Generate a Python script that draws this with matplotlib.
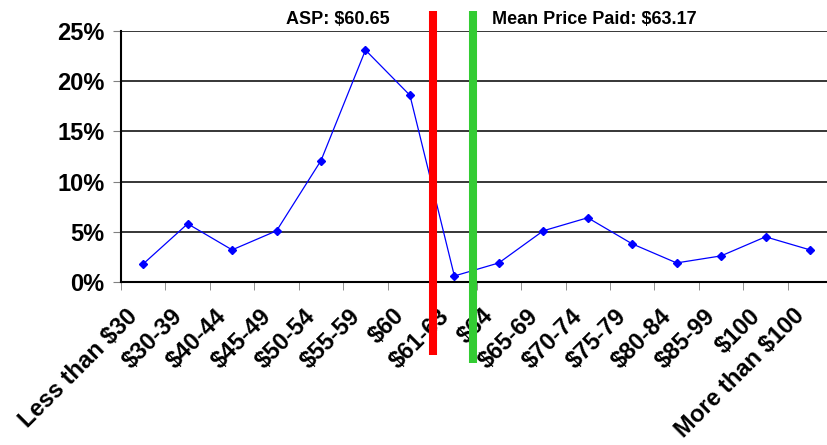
import matplotlib
matplotlib.use("Agg")
import matplotlib.pyplot as plt
import matplotlib.transforms as mtransforms
import numpy as np

categories = ["Less than $30", "$30-39", "$40-44", "$45-49", "$50-54", "$55-59",
              "$60", "$61-63", "$64", "$65-69", "$70-74", "$75-79", "$80-84",
              "$85-99", "$100", "More than $100"]
share = [1.8, 5.8, 3.2, 5.1, 12.1, 23.1, 18.6, 0.6, 1.9, 5.1, 6.4, 3.8, 1.9,
         2.6, 4.5, 3.2]
y_ticks = [0, 5, 10, 15, 20, 25]
asp_pos = 6.52      # position of ASP $60.65 on the category axis
mean_pos = 7.42     # position of mean price paid $63.17

plt.rcParams["font.family"] = ["Liberation Sans", "DejaVu Sans"]
plt.rcParams["font.weight"] = "bold"

fig = plt.figure(figsize=(8.27, 4.45), dpi=100)
ax = fig.add_axes([0.1463, 0.3663, 0.86, 0.564])

x = np.arange(len(categories))
ax.set_xlim(-0.5, len(categories) - 0.5)
ax.set_ylim(0, 25)

for v in y_ticks[1:]:
    ax.axhline(v, color="black", lw=1.1, zorder=1)

ax.plot(x, share, color="#0000FF", lw=0.9, marker="D", ms=4.2, zorder=3)

for s in ["top", "right"]:
    ax.spines[s].set_visible(False)
ax.spines["left"].set_linewidth(1.5)
ax.spines["bottom"].set_linewidth(1.5)

ax.set_yticks(y_ticks)
ax.set_yticklabels([f"{v}%" for v in y_ticks], fontsize=17, fontweight="bold")
ax.tick_params(axis="y", length=6, color="#808080", pad=6)

ax.set_xticks(x)
ax.set_xticklabels(categories, fontsize=17, fontweight="bold", rotation=45,
                   ha="right", va="center", rotation_mode="anchor")
ax.tick_params(axis="x", which="major", length=0, pad=22)
shift = mtransforms.ScaledTranslation(-9 / 100, 0, fig.dpi_scale_trans)
for lab in ax.get_xticklabels():
    lab.set_transform(lab.get_transform() + shift)
ax.set_xticks(np.arange(-0.5, len(categories) + 0.5), minor=True)
ax.tick_params(axis="x", which="minor", length=6, color="#808080")

tr = ax.get_xaxis_transform()
ax.plot([asp_pos, asp_pos], [1.08, -0.29], color="#FF0000", lw=5.8,
        solid_capstyle="butt", transform=tr, clip_on=False, zorder=4)
ax.plot([mean_pos, mean_pos], [1.08, -0.323], color="#33CC33", lw=5.8,
        solid_capstyle="butt", transform=tr, clip_on=False, zorder=4)
ax.text(5.55, 1.044, "ASP: $60.65", transform=tr, ha="right", va="center",
        fontsize=13, fontweight="bold")
ax.text(7.85, 1.044, "Mean Price Paid: $63.17", transform=tr, ha="left",
        va="center", fontsize=13, fontweight="bold")

fig.savefig("out.png", dpi=100)
